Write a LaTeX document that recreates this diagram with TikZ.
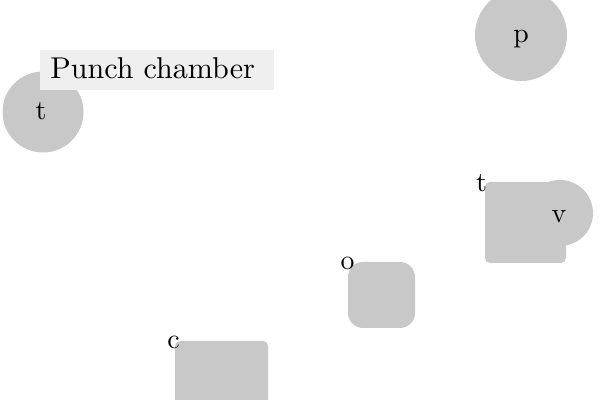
\documentclass[tikz,border=0pt]{standalone}
\begin{document}
\begin{tikzpicture}[x=0.5pt,y=-0.5pt,
  shapefill/.style={fill=shapegray, draw=none},
  lettr/.style={inner sep=0pt, anchor=base}]
\definecolor{shapegray}{HTML}{C8C8C8}
\definecolor{labelgray}{HTML}{EFEFEF}
\newcommand{\lt}[1]{\scalebox{1.39}{#1}}
\useasboundingbox (0,0) rectangle (600,400);
% circle p
\node[circle, shapefill, minimum size=46pt] (p) at (521,35) {};
\node[lettr] (pl) at (521,43) {\lt{p}};
% circle t behind label
\node[circle, shapefill, minimum size=40.5pt] (tc) at (43,112) {};
\node[lettr] (tl) at (41,120) {\lt{t}};
% title box
\node[fill=labelgray, minimum width=117pt, minimum height=20pt, inner sep=0pt] (title) at (157,70) {};
\node[anchor=base west, inner sep=0pt] (titletext) at (50,79) {\scalebox{1.505}{Punch chamber}};
% v group
\node[rectangle, rounded corners=2.5pt, shapefill, minimum size=40.5pt] (vrect) at (525.5,222.5) {};
\node[circle, shapefill, minimum size=33pt] (v) at (560,213) {};
\node[lettr] (vl) at (559,223) {\lt{v}};
\node[lettr] (vt) at (481.5,192) {\lt{t}};
% o
\node[rectangle, rounded corners=7.5pt, shapefill, minimum width=33.5pt, minimum height=33pt] (orect) at (381.5,295) {};
\node[lettr] (ol) at (347.5,270) {\lt{o}};
% c
\node[rectangle, rounded corners=2.5pt, shapefill, minimum size=46.5pt] (crect) at (221.5,387.5) {};
\node[lettr] (cl) at (173.5,349) {\lt{c}};
\end{tikzpicture}
\end{document}
